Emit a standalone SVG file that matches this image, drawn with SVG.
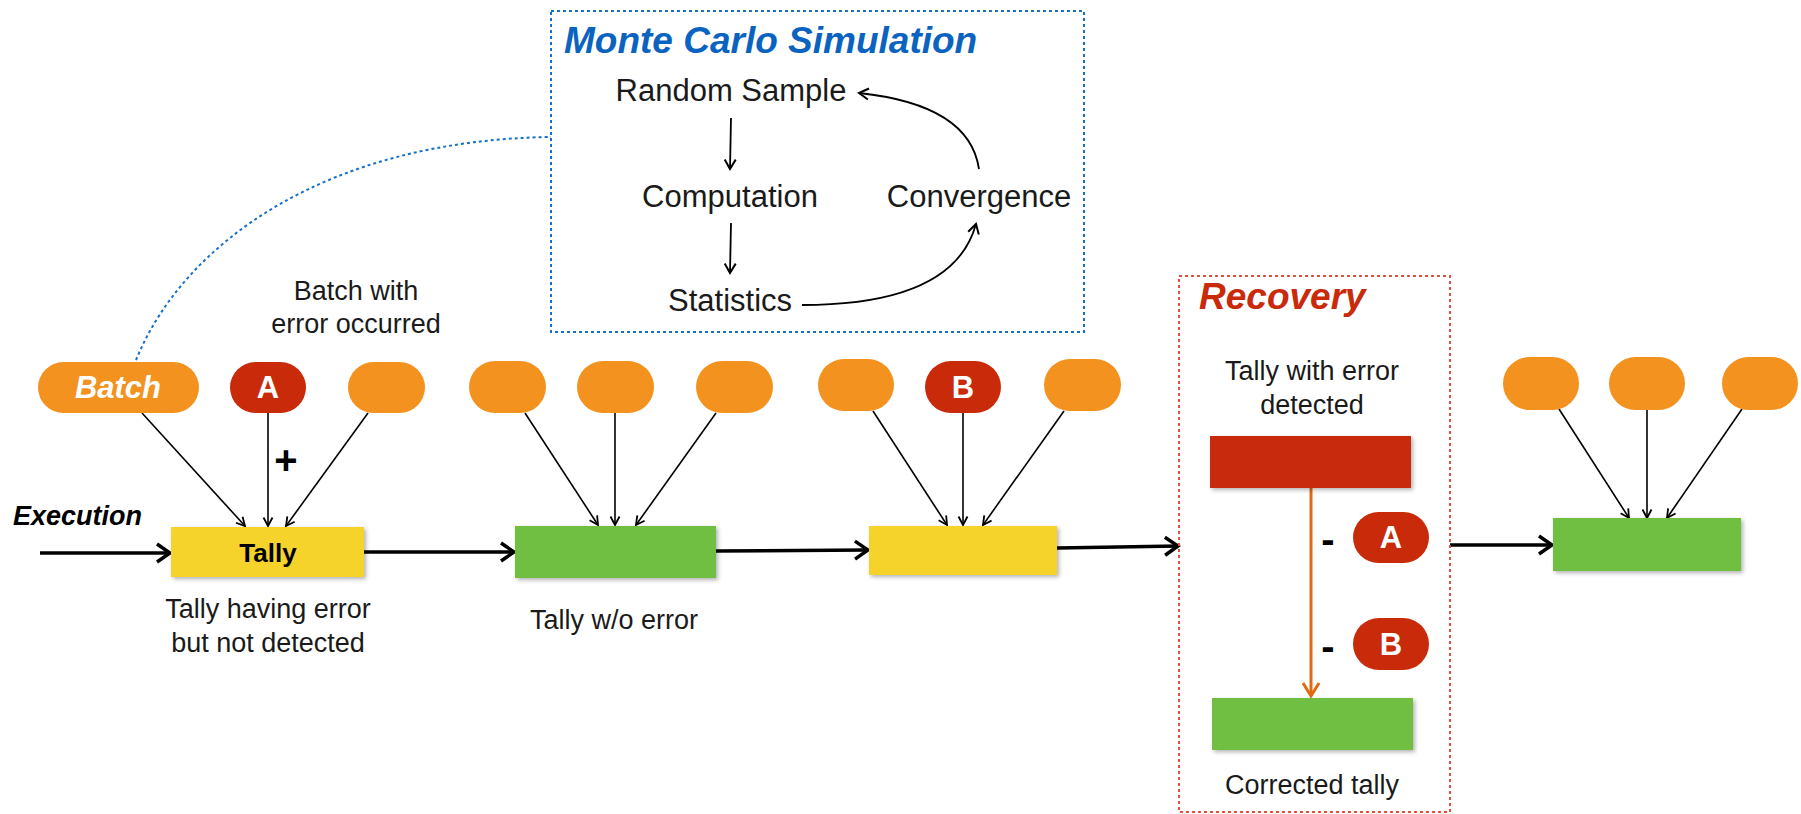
<svg xmlns="http://www.w3.org/2000/svg" width="1801" height="814" viewBox="0 0 1801 814">
<style>
.lbl{font-family:"Liberation Sans",Arial,sans-serif;font-size:27px;fill:#1a1a1a;text-anchor:middle}
.mc{font-family:"Liberation Sans",Arial,sans-serif;font-size:31px;fill:#1a1a1a;text-anchor:middle}
.pt{font-family:"Liberation Sans",Arial,sans-serif;font-size:31px;font-weight:bold;fill:#fff;text-anchor:middle}
.or{fill:#F3921E}
.rd{fill:#C82A0A}
.yl{fill:#F5D32A}
.gr{fill:#70BF43}
.thin{stroke:#000;stroke-width:1.6;fill:none;marker-end:url(#ah)}
.thick{stroke:#000;stroke-width:3.5;fill:none;marker-end:url(#ahT)}
.mca{stroke:#000;stroke-width:1.8;fill:none;marker-end:url(#ahM)}
</style>
<defs>
<filter id="sh" x="-10%" y="-20%" width="130%" height="160%">
<feDropShadow dx="2" dy="2" stdDeviation="2" flood-color="#000" flood-opacity="0.3"/>
</filter>
<marker id="ah" viewBox="0 0 12 12" markerWidth="12" markerHeight="12" refX="10" refY="6" orient="auto" markerUnits="userSpaceOnUse">
<path d="M1.5,1.5 L10,6 L1.5,10.5" fill="none" stroke="#000" stroke-width="1.8"/>
</marker>
<marker id="ahM" viewBox="0 0 14 14" markerWidth="14" markerHeight="14" refX="11" refY="7" orient="auto" markerUnits="userSpaceOnUse">
<path d="M1.5,1.5 L11,7 L1.5,12.5" fill="none" stroke="#000" stroke-width="2"/>
</marker>
<marker id="ahT" viewBox="0 0 18 22" markerWidth="18" markerHeight="22" refX="15" refY="11" orient="auto" markerUnits="userSpaceOnUse">
<path d="M2,2 L15,11 L2,20" fill="none" stroke="#000" stroke-width="3.5"/>
</marker>
<marker id="ahO" viewBox="0 0 18 18" markerWidth="18" markerHeight="18" refX="15" refY="9" orient="auto" markerUnits="userSpaceOnUse">
<path d="M2,1 L15,9 L2,17" fill="none" stroke="#E06A12" stroke-width="3"/>
</marker>
</defs>

<g id="connectors">
<path d="M136 360 C 185 240, 330 140, 551 137" fill="none" stroke="#1670C8" stroke-width="2" stroke-dasharray="3 3"/>
<line class="thick" x1="40" y1="553" x2="170" y2="553"/>
<line class="thick" x1="364" y1="552" x2="514" y2="552"/>
<line class="thick" x1="716" y1="551" x2="868" y2="550"/>
<line class="thick" x1="1057" y1="548" x2="1178" y2="546"/>
<line class="thick" x1="1450" y1="545" x2="1552" y2="545"/>
<line class="thin" x1="142" y1="413" x2="245" y2="526"/>
<line class="thin" x1="268" y1="413" x2="268" y2="526"/>
<line class="thin" x1="368" y1="413" x2="286" y2="526"/>
<line class="thin" x1="525" y1="413" x2="598" y2="525"/>
<line class="thin" x1="615" y1="413" x2="615" y2="525"/>
<line class="thin" x1="716" y1="413" x2="636" y2="525"/>
<line class="thin" x1="873" y1="411" x2="947" y2="525"/>
<line class="thin" x1="963" y1="413" x2="963" y2="525"/>
<line class="thin" x1="1064" y1="411" x2="983" y2="525"/>
<line class="thin" x1="1559" y1="409" x2="1629" y2="518"/>
<line class="thin" x1="1647" y1="409" x2="1647" y2="518"/>
<line class="thin" x1="1742" y1="409" x2="1667" y2="518"/>
<line x1="1311" y1="488" x2="1311" y2="696" stroke="#E06A12" stroke-width="3" marker-end="url(#ahO)"/>
<line class="mca" x1="731" y1="118" x2="730" y2="169"/>
<line class="mca" x1="731" y1="223" x2="730" y2="273"/>
<path class="mca" d="M802 305 C 910 305, 962 275, 976 224"/>
<path class="mca" d="M979 169 C 972 122, 925 100, 859 93"/>
</g>

<g id="monte-carlo">
<rect x="551" y="11" width="533" height="321" fill="none" stroke="#1670C8" stroke-width="2" stroke-dasharray="3 3"/>
<text x="564" y="53" font-family="Liberation Sans,Arial,sans-serif" font-size="37" font-weight="bold" font-style="italic" fill="#0B63C0">Monte Carlo Simulation</text>
<text class="mc" x="731" y="101">Random Sample</text>
<text class="mc" x="730" y="207">Computation</text>
<text class="mc" x="730" y="311">Statistics</text>
<text class="mc" x="979" y="207">Convergence</text>
</g>

<g id="labels">
<text class="lbl" x="356" y="300" font-size="28">Batch with</text>
<text class="lbl" x="356" y="333" font-size="28">error occurred</text>
<text x="13" y="525" font-family="Liberation Sans,Arial,sans-serif" font-size="27" font-weight="bold" font-style="italic" fill="#000">Execution</text>
<text x="286" y="474" font-family="Liberation Sans,Arial,sans-serif" font-size="40" font-weight="bold" fill="#000" text-anchor="middle">+</text>
<text class="lbl" x="268" y="618">Tally having error</text>
<text class="lbl" x="268" y="652">but not detected</text>
<text class="lbl" x="614" y="629">Tally w/o error</text>
</g>

<g id="batch-group-1">
<rect class="or" x="38" y="362" width="161" height="51" rx="25.5"/>
<text x="118" y="398" font-family="Liberation Sans,Arial,sans-serif" font-size="31" font-weight="bold" font-style="italic" fill="#fff" text-anchor="middle">Batch</text>
<rect class="rd" x="230" y="362" width="76" height="51" rx="25.5"/>
<text class="pt" x="268" y="398">A</text>
<rect class="or" x="348" y="362" width="77" height="51" rx="25.5"/>
</g>

<g id="tally-1">
<rect class="yl" x="171" y="527" width="193" height="50" filter="url(#sh)"/>
<text x="268" y="562" font-family="Liberation Sans,Arial,sans-serif" font-size="26" font-weight="bold" fill="#000" text-anchor="middle">Tally</text>
</g>

<g id="batch-group-2">
<rect class="or" x="469" y="361" width="77" height="52" rx="26"/>
<rect class="or" x="577" y="361" width="77" height="52" rx="26"/>
<rect class="or" x="696" y="361" width="77" height="52" rx="26"/>
</g>

<g id="tally-2">
<rect class="gr" x="515" y="526" width="201" height="52" filter="url(#sh)"/>
</g>

<g id="batch-group-3">
<rect class="or" x="818" y="359" width="76" height="52" rx="26"/>
<rect class="rd" x="925" y="361" width="76" height="52" rx="26"/>
<text class="pt" x="963" y="398">B</text>
<rect class="or" x="1044" y="359" width="77" height="52" rx="26"/>
</g>

<g id="tally-3">
<rect class="yl" x="869" y="526" width="188" height="49" filter="url(#sh)"/>
</g>

<g id="recovery">
<rect x="1179" y="276" width="271" height="536" fill="none" stroke="#E0503A" stroke-width="2" stroke-dasharray="3 3"/>
<text x="1199" y="309" font-family="Liberation Sans,Arial,sans-serif" font-size="37" font-weight="bold" font-style="italic" fill="#C82A0A">Recovery</text>
<text class="lbl" x="1312" y="380">Tally with error</text>
<text class="lbl" x="1312" y="414">detected</text>
<rect class="rd" x="1210" y="436" width="201" height="52" filter="url(#sh)"/>
<text x="1328" y="553" font-family="Liberation Sans,Arial,sans-serif" font-size="40" font-weight="bold" fill="#000" text-anchor="middle">-</text>
<rect class="rd" x="1353" y="512" width="76" height="51" rx="25.5"/>
<text class="pt" x="1391" y="548">A</text>
<text x="1328" y="660" font-family="Liberation Sans,Arial,sans-serif" font-size="40" font-weight="bold" fill="#000" text-anchor="middle">-</text>
<rect class="rd" x="1353" y="618" width="76" height="52" rx="26"/>
<text class="pt" x="1391" y="655">B</text>
<rect class="gr" x="1212" y="698" width="201" height="52" filter="url(#sh)"/>
<text class="lbl" x="1312" y="794">Corrected tally</text>
</g>

<g id="batch-group-4">
<rect class="or" x="1503" y="357" width="76" height="53" rx="26.5"/>
<rect class="or" x="1609" y="357" width="76" height="53" rx="26.5"/>
<rect class="or" x="1722" y="357" width="76" height="53" rx="26.5"/>
</g>

<g id="tally-4">
<rect class="gr" x="1553" y="518" width="188" height="53" filter="url(#sh)"/>
</g>
</svg>
